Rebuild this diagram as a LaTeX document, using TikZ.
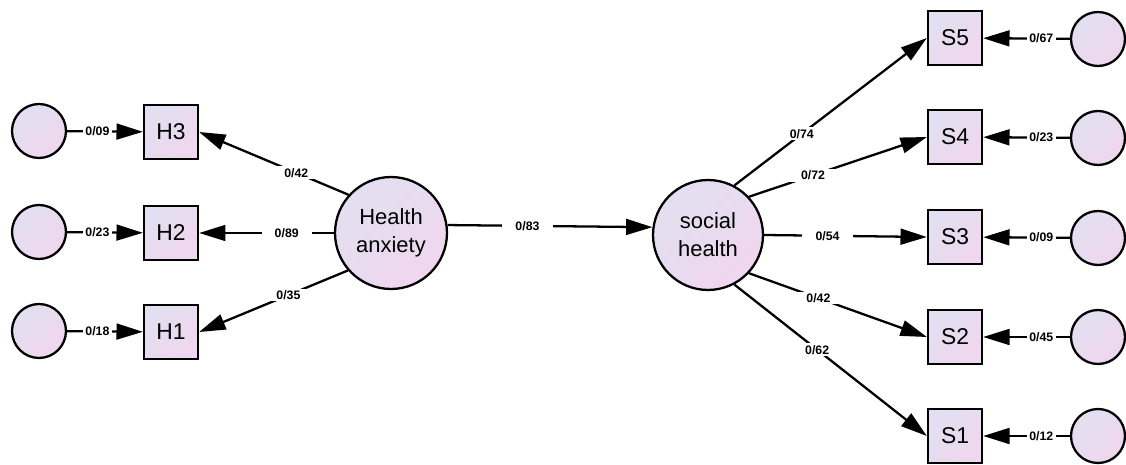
\documentclass[tikz,border=0pt]{standalone}
\usepackage{fontspec}
\setsansfont{Liberation Sans}
\usetikzlibrary{arrows.meta}
\definecolor{VarLav}{HTML}{E2E0F0}
\definecolor{VarPink}{HTML}{F0D6EE}
\tikzset{
  varfill/.style={top color=VarLav, bottom color=VarPink, shading angle=45},
  latentnode/.style={circle, draw=black, line width=1.3pt, varfill, minimum size=2.24cm, inner sep=0pt, font=\sffamily\fontsize{12.5}{16}\selectfont, align=center},
  itembox/.style={rectangle, draw=black, line width=1.3pt, varfill, minimum size=1.08cm, inner sep=0pt, font=\sffamily\fontsize{13}{14}\selectfont},
  errnode/.style={circle, draw=black, line width=1.3pt, varfill, minimum size=1.08cm, inner sep=0pt},
  patharrow/.style={-{Triangle[length=15pt, width=9pt]}, line width=1.3pt, black},
  coef/.style={fill=white, font=\sffamily\bfseries\fontsize{7}{8}\selectfont, inner xsep=7.5pt, inner ysep=1pt},
  errcoef/.style={fill=white, font=\sffamily\bfseries\fontsize{7}{8}\selectfont, inner xsep=1.5pt, inner ysep=1pt}
}
\begin{document}
\begin{tikzpicture}[x=0.02cm, y=-0.02cm]
  \useasboundingbox (0,0) rectangle (1126,465);

  % health anxiety side
  \node[latentnode] (HA) at (391,233) {Health\\anxiety};
  \node[itembox] (H3) at (171,132) {H3};
  \node[itembox] (H2) at (171,233) {H2};
  \node[itembox] (H1) at (171,332) {H1};
  \node[errnode] (eH3) at (39,131) {};
  \node[errnode] (eH2) at (39,232) {};
  \node[errnode] (eH1) at (39,331) {};

  \draw[patharrow] (HA.138) -- node[coef, pos=0.35] {0/42} (H3.east);
  \draw[patharrow] (HA.180) -- node[coef, pos=0.35] {0/89} (H2.east);
  \draw[patharrow] (HA.221) -- node[coef, pos=0.4] {0/35} (H1.east);
  \draw[patharrow] (eH3) -- node[errcoef, pos=0.4] {0/09} (H3);
  \draw[patharrow] (eH2) -- node[errcoef, pos=0.4] {0/23} (H2);
  \draw[patharrow] (eH1) -- node[errcoef, pos=0.4] {0/18} (H1);

  % social health side
  \node[latentnode, minimum size=2.2cm] (SH) at (708,235) {social\\health};
  \draw[patharrow] (HA.8) -- node[coef, pos=0.39] {0/83} (SH.172);

  \node[itembox] (S5) at (955,38) {S5};
  \node[itembox] (S4) at (955,137) {S4};
  \node[itembox] (S3) at (955,237) {S3};
  \node[itembox] (S2) at (955,337) {S2};
  \node[itembox] (S1) at (955,436) {S1};
  \node[errnode] (eS5) at (1098,39) {};
  \node[errnode] (eS4) at (1098,138) {};
  \node[errnode] (eS3) at (1098,238) {};
  \node[errnode] (eS2) at (1098,337) {};
  \node[errnode] (eS1) at (1098,436) {};

  \draw[patharrow] (SH.62) -- node[coef, pos=0.35] {0/74} (S5.west);
  \draw[patharrow] (SH.43) -- node[coef, pos=0.36] {0/72} (S4.west);
  \draw[patharrow] (SH.0) -- node[coef, pos=0.39] {0/54} (S3.west);
  \draw[patharrow] (SH.-43) -- node[coef, pos=0.39] {0/42} (S2.west);
  \draw[patharrow] (SH.-62) -- node[coef, pos=0.43] {0/62} (S1.west);
  \draw[patharrow] (eS5) -- node[errcoef, pos=0.33] {0/67} (S5);
  \draw[patharrow] (eS4) -- node[errcoef, pos=0.33] {0/23} (S4);
  \draw[patharrow] (eS3) -- node[errcoef, pos=0.33] {0/09} (S3);
  \draw[patharrow] (eS2) -- node[errcoef, pos=0.33] {0/45} (S2);
  \draw[patharrow] (eS1) -- node[errcoef, pos=0.33] {0/12} (S1);
\end{tikzpicture}
\end{document}
